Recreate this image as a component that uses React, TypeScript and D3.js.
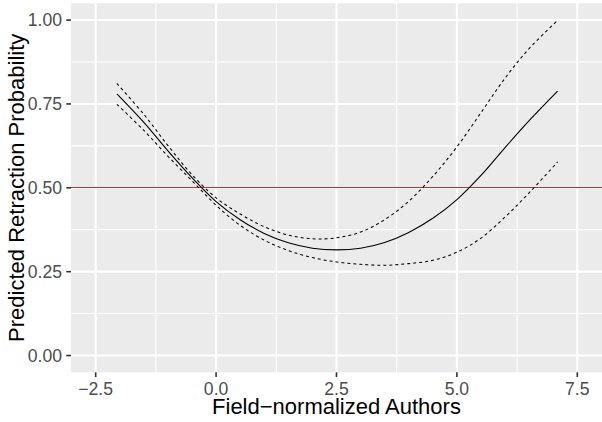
import React from "react";
import * as d3 from "d3";

const xValues = [-2.06, -1.5, -1, -0.5, 0, 0.5, 1, 1.5, 2, 2.5, 3, 3.5, 4, 4.5, 5, 5.5, 6, 6.5, 7.09];
const fitValues = [0.780, 0.695, 0.610, 0.530, 0.459, 0.405, 0.364, 0.336, 0.320, 0.315, 0.320, 0.337, 0.367, 0.409, 0.465, 0.537, 0.620, 0.700, 0.788];
const upperValues = [0.811, 0.719, 0.626, 0.539, 0.470, 0.422, 0.384, 0.359, 0.348, 0.351, 0.368, 0.405, 0.460, 0.534, 0.622, 0.724, 0.827, 0.915, 0.999];
const lowerValues = [0.749, 0.671, 0.594, 0.521, 0.448, 0.388, 0.344, 0.313, 0.292, 0.279, 0.272, 0.269, 0.274, 0.284, 0.308, 0.350, 0.413, 0.485, 0.577];
const xTicks = [-2.5, 0, 2.5, 5, 7.5];
const xTickLabels = ["\u22122.5", "0.0", "2.5", "5.0", "7.5"];
const xMinor = [-1.25, 1.25, 3.75, 6.25];
const yTicks = [0, 0.25, 0.5, 0.75, 1];
const yTickLabels = ["0.00", "0.25", "0.50", "0.75", "1.00"];
const yMinor = [0.125, 0.375, 0.625, 0.875];
const refLine = 0.5;
const xTitle = "Field\u2212normalized Authors";
const yTitle = "Predicted Retraction Probability";

const W = 602;
const H = 422;
const P = { left: 71, right: 602, top: 3.3, bottom: 372.3 };
const FONT = "'Liberation Sans', Arial, Helvetica, sans-serif";

export default function App() {
  const x = d3.scaleLinear().domain([-3.0125, 8.0125]).range([P.left, P.right]);
  const y = d3.scaleLinear().domain([-0.05, 1.05]).range([P.bottom, P.top]);
  const mk = (vals: number[]) =>
    d3
      .line<number>()
      .x((_, i) => x(xValues[i]))
      .y((v) => y(v))
      .curve(d3.curveCatmullRom.alpha(0.5))(vals) as string;
  const refY = Math.round(y(refLine)) - 0.5;

  return (
    <svg
      width={W}
      height={H}
      style={{ position: "absolute", left: 0, top: 0, background: "#fff" }}
      fontFamily={FONT}
    >
      <rect x={P.left} y={P.top} width={P.right - P.left} height={P.bottom - P.top} fill="#ebebeb" />
      {xMinor.map((t) => (
        <line key={"xm" + t} x1={x(t)} x2={x(t)} y1={P.top} y2={P.bottom} stroke="#fff" strokeWidth={1.05} />
      ))}
      {yMinor.map((t) => (
        <line key={"ym" + t} x1={P.left} x2={P.right} y1={y(t)} y2={y(t)} stroke="#fff" strokeWidth={1.05} />
      ))}
      {xTicks.map((t) => (
        <line key={"xM" + t} x1={x(t)} x2={x(t)} y1={P.top} y2={P.bottom} stroke="#fff" strokeWidth={2.1} />
      ))}
      {yTicks.map((t) => (
        <line key={"yM" + t} x1={P.left} x2={P.right} y1={y(t)} y2={y(t)} stroke="#fff" strokeWidth={2.1} />
      ))}
      <line x1={P.left} x2={P.right} y1={refY} y2={refY} stroke="#d42a2a" strokeWidth={1} />
      <path d={mk(upperValues)} fill="none" stroke="#000" strokeWidth={1.05} strokeDasharray="3,3" />
      <path d={mk(lowerValues)} fill="none" stroke="#000" strokeWidth={1.05} strokeDasharray="3,3" />
      <path d={mk(fitValues)} fill="none" stroke="#000" strokeWidth={1.1} />
      {yTicks.map((t, i) => (
        <g key={"yt" + t}>
          <line x1={P.left - 4.7} x2={P.left} y1={y(t)} y2={y(t)} stroke="#333" strokeWidth={1.6} />
          <text x={P.left - 9} y={y(t)} dy="0.36em" textAnchor="end" fontSize={17.6} fill="#4d4d4d">
            {yTickLabels[i]}
          </text>
        </g>
      ))}
      {xTicks.map((t, i) => (
        <g key={"xt" + t}>
          <line x1={x(t)} x2={x(t)} y1={P.bottom} y2={P.bottom + 4.7} stroke="#333" strokeWidth={1.6} />
          <text x={x(t)} y={394.5} textAnchor="middle" fontSize={17.6} fill="#4d4d4d">
            {xTickLabels[i]}
          </text>
        </g>
      ))}
      <text x={(P.left + P.right) / 2} y={414} textAnchor="middle" fontSize={22} fill="#000">
        {xTitle}
      </text>
      <text
        transform={`translate(23.5,${(P.top + P.bottom) / 2}) rotate(-90)`}
        textAnchor="middle"
        fontSize={22}
        fill="#000"
      >
        {yTitle}
      </text>
    </svg>
  );
}
